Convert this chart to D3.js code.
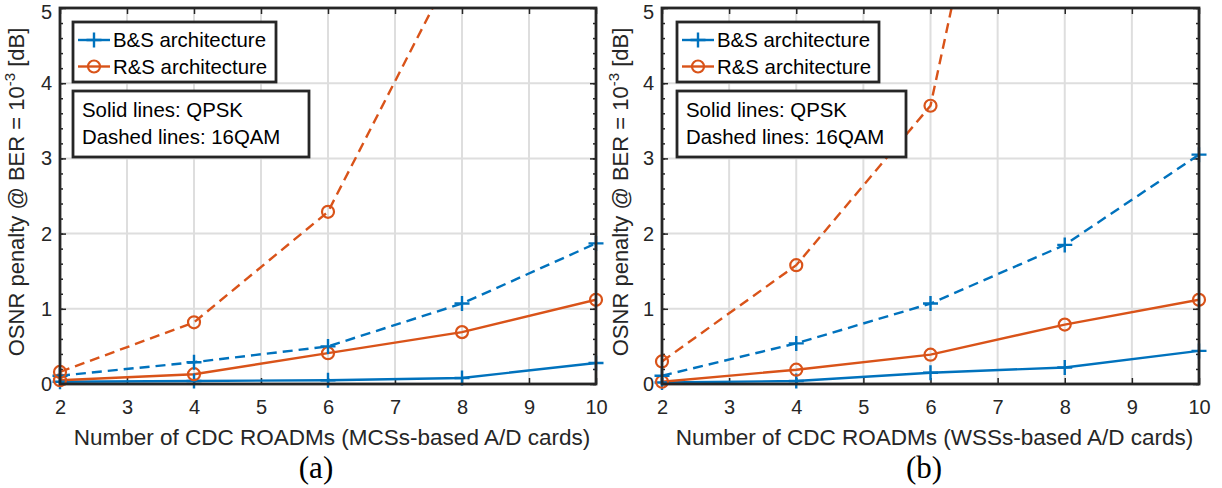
<!DOCTYPE html>
<html><head><meta charset="utf-8">
<script src="https://cdn.jsdelivr.net/npm/d3@7"></script>
<style>body{margin:0;background:#fff}svg{display:block}</style>
</head><body>
<svg id="c" width="1222" height="488"></svg>
<script>
const xValues = [2, 4, 6, 8, 10];
const xTicks = [2, 3, 4, 5, 6, 7, 8, 9, 10];
const yTicks = [0, 1, 2, 3, 4, 5];
// Panel (a): MCSs-based A/D cards
const a_BS_QPSK  = [0.03, 0.04, 0.05, 0.08, 0.28];
const a_RS_QPSK  = [0.05, 0.13, 0.41, 0.69, 1.12];
const a_BS_16QAM = [0.11, 0.29, 0.50, 1.07, 1.87];
const a_RS_16QAM = [0.16, 0.82, 2.29, 5.76, 9.5];
// Panel (b): WSSs-based A/D cards
const b_BS_QPSK  = [0.02, 0.04, 0.15, 0.22, 0.44];
const b_RS_QPSK  = [0.03, 0.19, 0.39, 0.79, 1.12];
const b_BS_16QAM = [0.11, 0.54, 1.07, 1.85, 3.05];
const b_RS_16QAM = [0.30, 1.58, 3.70, 12.0, 20.0];
const legendLabels = ["B&S architecture", "R&S architecture"];
const noteLines = ["Solid lines: QPSK", "Dashed lines: 16QAM"];
const xLabels = ["Number of CDC ROADMs (MCSs-based A/D cards)", "Number of CDC ROADMs (WSSs-based A/D cards)"];
const captions = ["(a)", "(b)"];

const BLUE = "#0072BD", ORANGE = "#D95319";
const FONT = "'Liberation Sans', Arial, Helvetica, sans-serif";
const svg = d3.select("#c");

const panels = [
  {x0: 60, x1: 596, series: [a_BS_QPSK, a_RS_QPSK, a_BS_16QAM, a_RS_16QAM], xl: xLabels[0], cap: captions[0], ylx: 24, leg: 13, legW: 203, noteW: 236, capX: 316},
  {x0: 662, x1: 1199, series: [b_BS_QPSK, b_RS_QPSK, b_BS_16QAM, b_RS_16QAM], xl: xLabels[1], cap: captions[1], ylx: 628, leg: 15, legW: 202, noteW: 229, capX: 924}
];
const yTop = 8, yBot = 384;

panels.forEach((p, pi) => {
  const x = d3.scaleLinear().domain([2, 10]).range([p.x0, p.x1]);
  const y = d3.scaleLinear().domain([0, 5]).range([yBot, yTop]);
  const g = svg.append("g");
  const cid = "clip" + pi;
  svg.append("clipPath").attr("id", cid).append("rect")
    .attr("x", p.x0).attr("y", yTop).attr("width", p.x1 - p.x0).attr("height", yBot - yTop);

  // grid
  g.append("g").selectAll("line").data(xTicks.slice(1, -1)).join("line")
    .attr("x1", d => x(d)).attr("x2", d => x(d)).attr("y1", yTop).attr("y2", yBot)
    .attr("stroke", "#dedede").attr("stroke-width", 2);
  g.append("g").selectAll("line").data(yTicks.slice(1, -1)).join("line")
    .attr("y1", d => y(d)).attr("y2", d => y(d)).attr("x1", p.x0).attr("x2", p.x1)
    .attr("stroke", "#dedede").attr("stroke-width", 2);

  // axes via d3 axis (ticks inward)
  const axB = d3.axisBottom(x).tickValues(xTicks).tickSizeInner(-6).tickSizeOuter(0).tickPadding(16).tickFormat(d3.format("d"));
  const axL = d3.axisLeft(y).tickValues(yTicks).tickSizeInner(-6).tickSizeOuter(0).tickPadding(8).tickFormat(d3.format("d"));
  const axT = d3.axisTop(x).tickValues(xTicks).tickSizeInner(-6).tickSizeOuter(0).tickFormat("");
  const axR = d3.axisRight(y).tickValues(yTicks).tickSizeInner(-6).tickSizeOuter(0).tickFormat("");
  const minorY = d3.range(0, 5.001, 0.2).map(v => +v.toFixed(1));
  const axLm = d3.axisLeft(y).tickValues(minorY).tickSizeInner(-3).tickSizeOuter(0).tickFormat("");
  const axRm = d3.axisRight(y).tickValues(minorY).tickSizeInner(-3).tickSizeOuter(0).tickFormat("");

  function styleAxis(sel) {
    sel.select(".domain").remove();
    sel.selectAll("line").attr("stroke", "#262626").attr("stroke-width", 1.5);
    sel.selectAll("text").attr("font-family", FONT).attr("font-size", 20).attr("fill", "#262626");
  }
  g.append("g").attr("transform", `translate(0,${yBot})`).call(axB).call(styleAxis);
  const gl = g.append("g").attr("transform", `translate(${p.x0},0)`).call(axL).call(styleAxis);
  gl.selectAll("text").filter(d => d === 5).attr("dy", "0.5em");
  g.append("g").attr("transform", `translate(0,${yTop})`).call(axT).call(styleAxis);
  g.append("g").attr("transform", `translate(${p.x1},0)`).call(axR).call(styleAxis);
  g.append("g").attr("transform", `translate(${p.x0},0)`).call(axLm).call(styleAxis);
  g.append("g").attr("transform", `translate(${p.x1},0)`).call(axRm).call(styleAxis);

  // series
  const defs = [
    {vals: p.series[0], color: BLUE, dash: null, mk: "plus"},
    {vals: p.series[1], color: ORANGE, dash: null, mk: "circle"},
    {vals: p.series[2], color: BLUE, dash: "10,6", mk: "plus"},
    {vals: p.series[3], color: ORANGE, dash: "10,6", mk: "circle"}
  ];
  const line = d3.line().x(d => x(d[0])).y(d => y(d[1]));
  const plotG = g.append("g").attr("clip-path", `url(#${cid})`);
  defs.forEach(s => {
    const pts = xValues.map((xv, i) => [xv, s.vals[i]]);
    plotG.append("path").datum(pts).attr("d", line).attr("fill", "none")
      .attr("stroke", s.color).attr("stroke-width", 2.4).attr("stroke-dasharray", s.dash);
  });
  const markG = g.append("g");
  defs.forEach(s => {
    const pts = xValues.map((xv, i) => [xv, s.vals[i]]).filter(d => d[1] <= 5);
    drawMarkers(markG, pts.map(d => [x(d[0]), y(d[1])]), s.mk, s.color);
  });

  // box
  g.append("rect").attr("x", p.x0).attr("y", yTop).attr("width", p.x1 - p.x0).attr("height", yBot - yTop)
    .attr("fill", "none").attr("stroke", "#262626").attr("stroke-width", 2.8);

  // legend
  const lx = p.x0 + p.leg, ly = 22;
  g.append("rect").attr("x", lx).attr("y", ly).attr("width", p.legW).attr("height", 60)
    .attr("fill", "#fff").attr("stroke", "#262626").attr("stroke-width", 2.8);
  legendLabels.forEach((lab, i) => {
    const cy = ly + 18 + i * 26.5;
    const col = i === 0 ? BLUE : ORANGE;
    g.append("line").attr("x1", lx + 5).attr("x2", lx + 37).attr("y1", cy).attr("y2", cy)
      .attr("stroke", col).attr("stroke-width", 2.4);
    drawMarkers(g, [[lx + 21, cy]], i === 0 ? "plus" : "circle", col);
    g.append("text").attr("x", lx + 40).attr("y", cy + 7).text(lab)
      .attr("font-family", FONT).attr("font-size", 20.4).attr("fill", "#000");
  });
  // note box
  const ny = 91;
  g.append("rect").attr("x", lx).attr("y", ny).attr("width", p.noteW).attr("height", 66)
    .attr("fill", "#fff").attr("stroke", "#262626").attr("stroke-width", 2.8);
  noteLines.forEach((t, i) => {
    g.append("text").attr("x", lx + 9).attr("y", ny + 26 + i * 27).text(t)
      .attr("font-family", FONT).attr("font-size", 20.4).attr("fill", "#000");
  });

  // y label
  const yl = g.append("text").attr("transform", `translate(${p.ylx},${(yTop + yBot) / 2 - 4}) rotate(-90)`)
    .attr("text-anchor", "middle").attr("font-family", FONT).attr("font-size", 22).attr("fill", "#262626");
  yl.append("tspan").text("OSNR penalty @ BER = 10");
  yl.append("tspan").attr("dy", -9).attr("font-size", 15).text("-3");
  yl.append("tspan").attr("dy", 9).text(" [dB]");

  // x label
  g.append("text").attr("x", (p.x0 + p.x1) / 2 + 4).attr("y", 445).attr("text-anchor", "middle")
    .attr("font-family", FONT).attr("font-size", 22.5).attr("fill", "#262626").text(p.xl);
  // caption
  g.append("text").attr("x", p.capX).attr("y", 478).attr("text-anchor", "middle")
    .attr("font-family", "'Liberation Serif', 'Times New Roman', serif").attr("font-size", 31).attr("fill", "#000").text(p.cap);
});

function drawMarkers(sel, pts, kind, color) {
  pts.forEach(([cx, cy]) => {
    if (kind === "plus") {
      sel.append("path").attr("d", `M${cx - 7.5},${cy}H${cx + 7.5}M${cx},${cy - 7.5}V${cy + 7.5}`)
        .attr("stroke", color).attr("stroke-width", 2.4).attr("fill", "none");
    } else {
      sel.append("circle").attr("cx", cx).attr("cy", cy).attr("r", 6)
        .attr("stroke", color).attr("stroke-width", 2.2).attr("fill", "none");
    }
  });
}
</script>
</body></html>
